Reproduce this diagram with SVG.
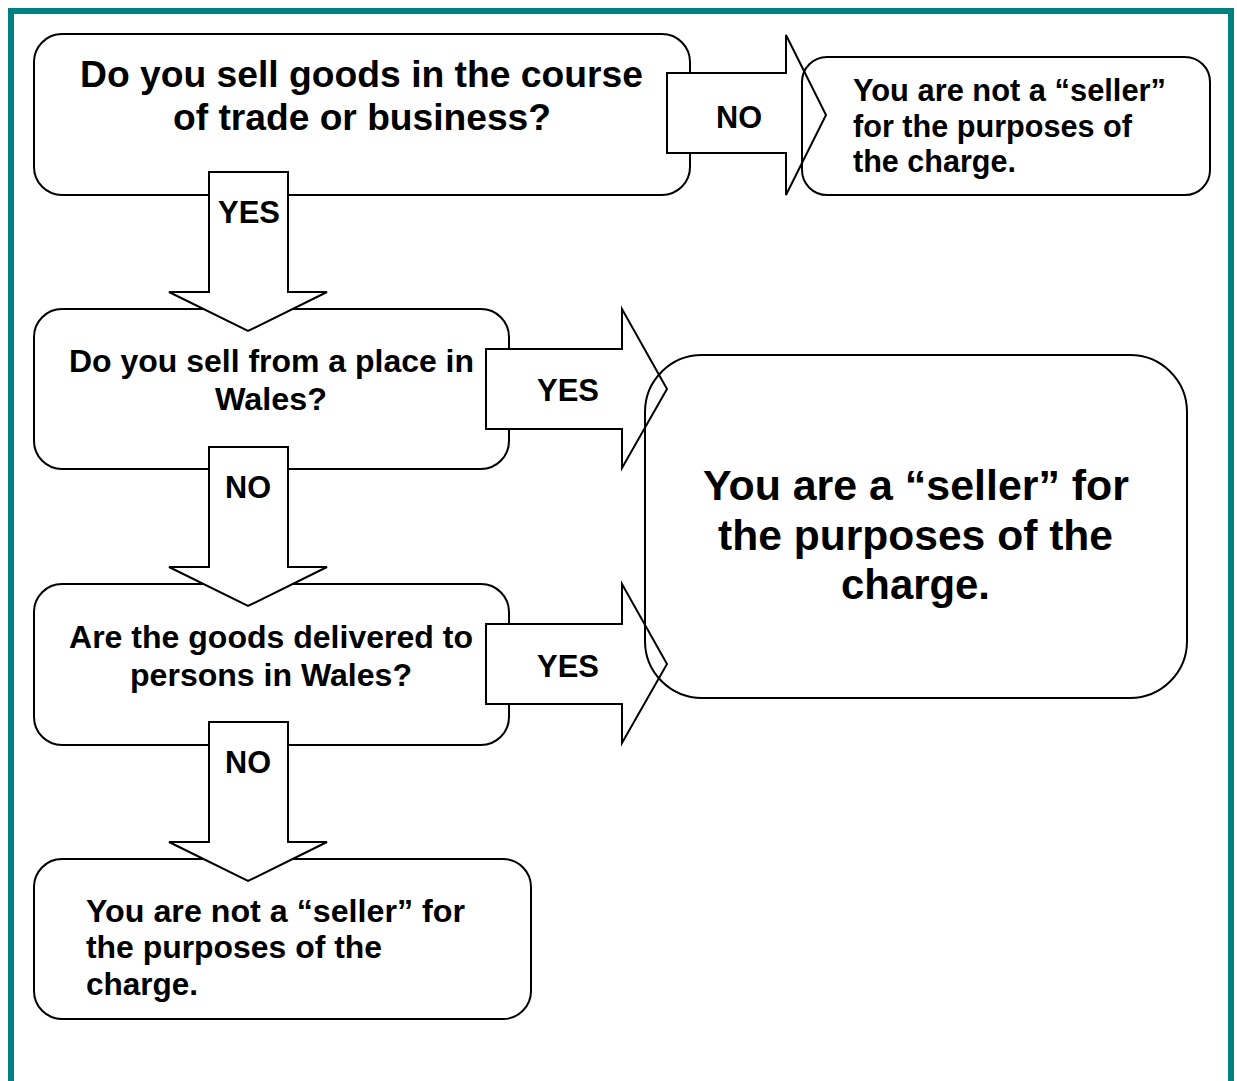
<svg xmlns="http://www.w3.org/2000/svg" width="1237" height="1081" viewBox="0 0 1237 1081">
<style>
.box{fill:#fff;stroke:#000;stroke-width:2}
.over{fill:none;stroke:#000;stroke-width:2}
.arr{fill:#fff;stroke:#000;stroke-width:2;stroke-linejoin:miter}
text{font-family:"Liberation Sans",Arial,sans-serif;font-weight:bold;fill:#000}
.c{text-anchor:middle}
.f37{font-size:37px}
.f32{font-size:32px}
.f31{font-size:31px}
.f30{font-size:30.6px}
.f42{font-size:42.6px}
</style>
<rect x="0" y="0" width="1237" height="1081" fill="#fff"/>
<rect x="11" y="11" width="1220" height="1110" fill="none" stroke="#008080" stroke-width="6"/>

<g id="q1">
<rect class="box" x="34" y="34" width="656" height="161" rx="28"/>
<text class="c f37" x="361.5" y="87" textLength="563" lengthAdjust="spacingAndGlyphs">Do you sell goods in the course</text>
<text class="c f37" x="362" y="130" textLength="378" lengthAdjust="spacingAndGlyphs">of trade or business?</text>
</g>
<g id="q2">
<rect class="box" x="34" y="309" width="475" height="160" rx="28"/>
<text class="c f32" x="271.5" y="372" textLength="405" lengthAdjust="spacingAndGlyphs">Do you sell from a place in</text>
<text class="c f32" x="271" y="410" textLength="112" lengthAdjust="spacingAndGlyphs">Wales?</text>
</g>
<g id="q3">
<rect class="box" x="34" y="584" width="475" height="161" rx="28"/>
<text class="c f32" x="271" y="648" textLength="404" lengthAdjust="spacingAndGlyphs">Are the goods delivered to</text>
<text class="c f32" x="271" y="686" textLength="282" lengthAdjust="spacingAndGlyphs">persons in Wales?</text>
</g>
<g id="notseller2">
<rect class="box" x="34" y="859" width="497" height="160" rx="28"/>
<text class="f32" x="86" y="922" textLength="379" lengthAdjust="spacingAndGlyphs">You are not a “seller” for</text>
<text class="f32" x="86" y="958" textLength="296" lengthAdjust="spacingAndGlyphs">the purposes of the</text>
<text class="f32" x="86" y="995" textLength="112" lengthAdjust="spacingAndGlyphs">charge.</text>
</g>

<g id="connectors">
<g id="a1">
<polygon class="arr" points="667,73 786,73 786,35 826,115 786,195 786,153 667,153"/>
<text class="c f31" x="739" y="128" textLength="46" lengthAdjust="spacingAndGlyphs">NO</text>
</g>
<g id="a2">
<polygon class="arr" points="209,172 288,172 288,292 327,292 248,331 169,292 209,292"/>
<text class="c f31" x="249" y="223" textLength="62" lengthAdjust="spacingAndGlyphs">YES</text>
</g>
<g id="a3">
<polygon class="arr" points="486,349 622,349 622,309 667,389 622,468 622,429 486,429"/>
<text class="c f31" x="568" y="401" textLength="62" lengthAdjust="spacingAndGlyphs">YES</text>
</g>
<g id="a4">
<polygon class="arr" points="209,447 288,447 288,567 327,567 248,606 169,567 209,567"/>
<text class="c f31" x="248" y="498" textLength="46" lengthAdjust="spacingAndGlyphs">NO</text>
</g>
<g id="a5">
<polygon class="arr" points="486,624 622,624 622,584 667,664 622,743 622,704 486,704"/>
<text class="c f31" x="568" y="677" textLength="62" lengthAdjust="spacingAndGlyphs">YES</text>
</g>
<g id="a6">
<polygon class="arr" points="209,722 288,722 288,842 327,842 248,881 169,842 209,842"/>
<text class="c f31" x="248" y="773" textLength="46" lengthAdjust="spacingAndGlyphs">NO</text>
</g>
</g>

<g id="notseller1">
<rect class="over" x="802" y="57" width="408" height="138" rx="25"/>
<text class="f30" x="853" y="101" textLength="313" lengthAdjust="spacingAndGlyphs">You are not a “seller”</text>
<text class="f30" x="853" y="137" textLength="279" lengthAdjust="spacingAndGlyphs">for the purposes of</text>
<text class="f30" x="853" y="172" textLength="163" lengthAdjust="spacingAndGlyphs">the charge.</text>
</g>
<g id="seller">
<rect class="over" x="645" y="355" width="542" height="343" rx="57"/>
<text class="c f42" x="916" y="500" textLength="426" lengthAdjust="spacingAndGlyphs">You are a “seller” for</text>
<text class="c f42" x="915.5" y="550" textLength="395" lengthAdjust="spacingAndGlyphs">the purposes of the</text>
<text class="c f42" x="915.5" y="599" textLength="149" lengthAdjust="spacingAndGlyphs">charge.</text>
</g>
</svg>
